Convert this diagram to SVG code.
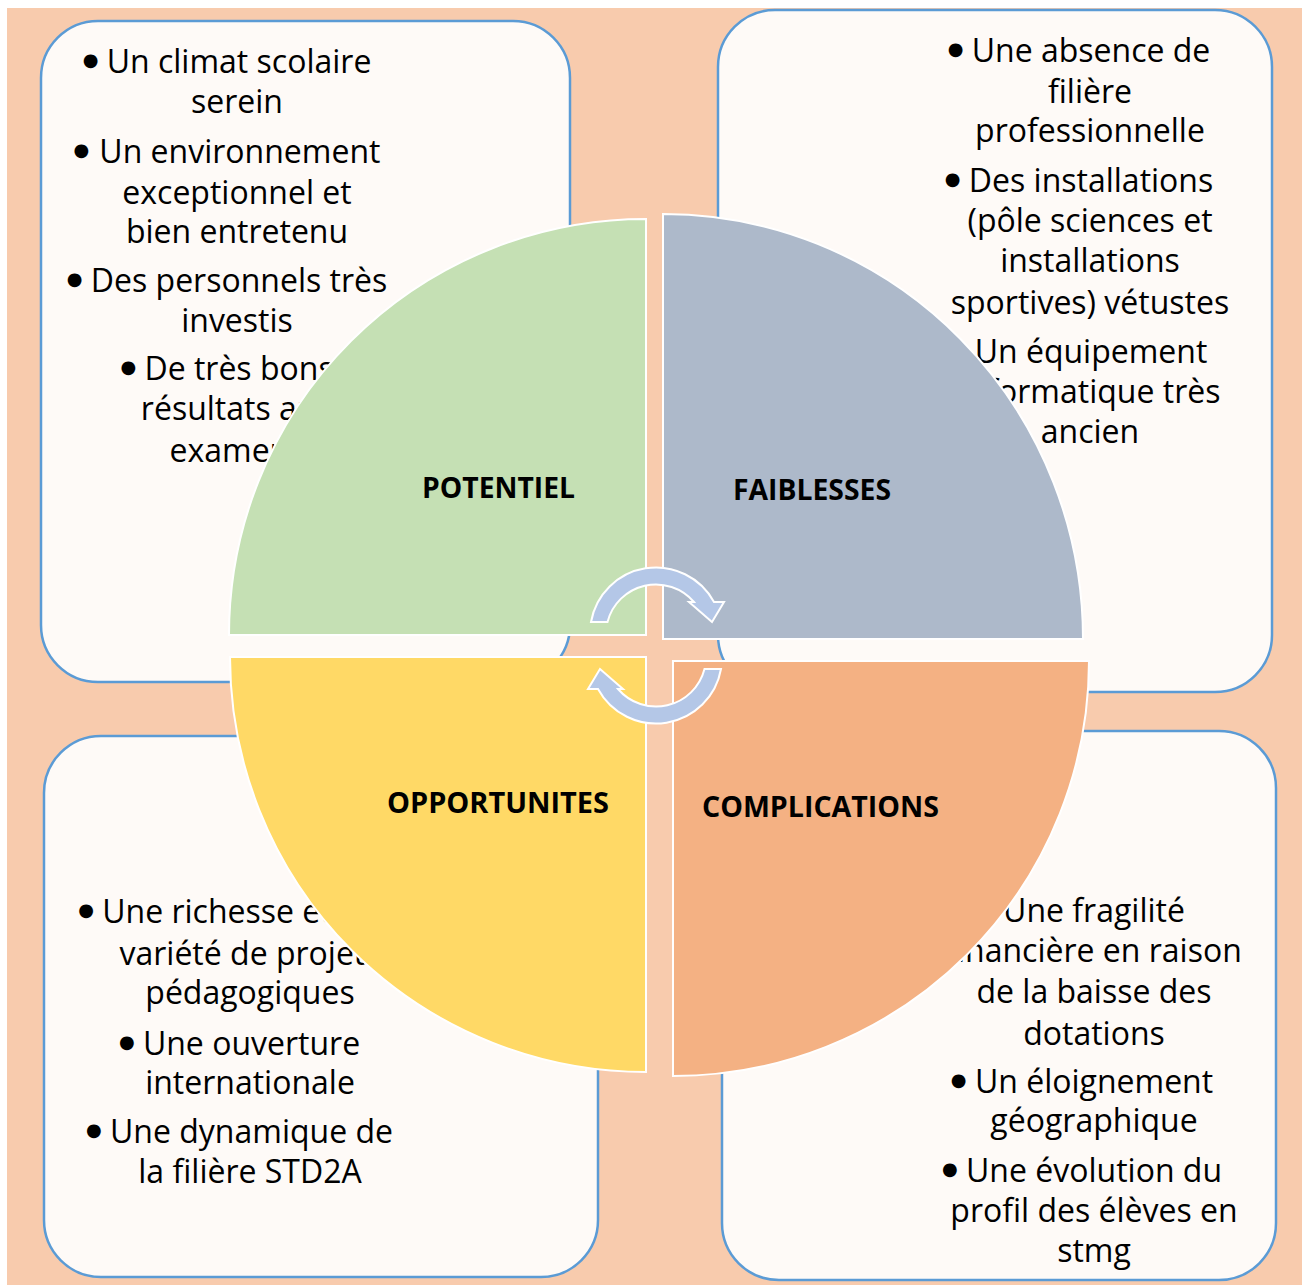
<svg xmlns="http://www.w3.org/2000/svg" width="1309" height="1286" viewBox="0 0 1309 1286">
<style>
.box{fill:#FEFAF7;stroke:#5B9BD5;stroke-width:2.5}
.t{font-family:"Open Sans","Liberation Sans",sans-serif;font-size:32px;fill:#000;text-anchor:middle}
.b{font-family:"DejaVu Sans",sans-serif;font-size:18px}
.q{stroke:#FFFFFF;stroke-width:2}
.lbl{font-family:"Open Sans","Liberation Sans",sans-serif;font-size:29px;font-weight:bold;fill:#000;text-anchor:middle}
.arr{fill:#B4C7E7;stroke:#FFFFFF;stroke-width:2}
</style>
<rect x="7" y="8" width="1295" height="1277" fill="#F8CBAD"/>
<g id="box-potentiel">
<rect class="box" x="41" y="21" width="529" height="661" rx="57"/>
<text class="t" x="227" y="73"><tspan class="b" dy="-7">●</tspan><tspan dy="7"> Un climat scolaire</tspan></text>
<text class="t" x="237" y="113">serein</text>
<text class="t" x="227" y="163"><tspan class="b" dy="-7">●</tspan><tspan dy="7" dx="10">Un environnement</tspan></text>
<text class="t" x="237" y="204">exceptionnel et</text>
<text class="t" x="237" y="243">bien entretenu</text>
<text class="t" x="227" y="292"><tspan class="b" dy="-7">●</tspan><tspan dy="7"> Des personnels très</tspan></text>
<text class="t" x="237" y="332">investis</text>
<text class="t" x="227" y="380"><tspan class="b" dy="-7">●</tspan><tspan dy="7"> De très bons</tspan></text>
<text class="t" x="237" y="420">résultats aux</text>
<text class="t" x="237" y="462">examens</text>
</g>
<g id="box-faiblesses">
<rect class="box" x="718" y="10" width="554" height="682" rx="57"/>
<text class="t" x="1079" y="62"><tspan class="b" dy="-7">●</tspan><tspan dy="7"> Une absence de</tspan></text>
<text class="t" x="1090" y="103">filière</text>
<text class="t" x="1090" y="142">professionnelle</text>
<text class="t" x="1079" y="192"><tspan class="b" dy="-7">●</tspan><tspan dy="7"> Des installations</tspan></text>
<text class="t" x="1090" y="232">(pôle sciences et</text>
<text class="t" x="1090" y="272">installations</text>
<text class="t" x="1090" y="314">sportives) vétustes</text>
<text class="t" x="1079" y="363"><tspan class="b" dy="-7">●</tspan><tspan dy="7"> Un équipement</tspan></text>
<text class="t" x="1090" y="403">informatique très</text>
<text class="t" x="1090" y="443">ancien</text>
</g>
<g id="box-opportunites">
<rect class="box" x="44" y="736" width="554" height="541" rx="57"/>
<text class="t" x="222" y="923"><tspan class="b" dy="-7">●</tspan><tspan dy="7"> Une richesse et la</tspan></text>
<text class="t" x="250" y="965">variété de projets</text>
<text class="t" x="250" y="1004">pédagogiques</text>
<text class="t" x="239.5" y="1055"><tspan class="b" dy="-7">●</tspan><tspan dy="7"> Une ouverture</tspan></text>
<text class="t" x="250" y="1094">internationale</text>
<text class="t" x="239.5" y="1143"><tspan class="b" dy="-7">●</tspan><tspan dy="7"> Une dynamique de</tspan></text>
<text class="t" x="250" y="1183">la filière STD2A</text>
</g>
<g id="box-complications">
<rect class="box" x="722" y="731" width="554" height="549" rx="57"/>
<text class="t" x="1082" y="922"><tspan class="b" dy="-7">●</tspan><tspan dy="7"> Une fragilité</tspan></text>
<text class="t" x="1094" y="962">financière en raison</text>
<text class="t" x="1094" y="1003">de la baisse des</text>
<text class="t" x="1094" y="1045">dotations</text>
<text class="t" x="1082" y="1093"><tspan class="b" dy="-7">●</tspan><tspan dy="7"> Un éloignement</tspan></text>
<text class="t" x="1094" y="1132">géographique</text>
<text class="t" x="1082" y="1182"><tspan class="b" dy="-7">●</tspan><tspan dy="7"> Une évolution du</tspan></text>
<text class="t" x="1094" y="1222">profil des élèves en</text>
<text class="t" x="1094" y="1262">stmg</text>
</g>
<g id="q-potentiel">
<path class="q" fill="#C5E0B4" d="M646,635 L229,635 A417 416 0 0 1 646,219 Z"/>
<text class="lbl" x="498.5" y="498" textLength="153" lengthAdjust="spacingAndGlyphs">POTENTIEL</text>
</g>
<g id="q-faiblesses">
<path class="q" fill="#ADB9CA" d="M663,639 L663,214 A420 425 0 0 1 1083,639 Z"/>
<text class="lbl" x="812" y="499.5" textLength="158" lengthAdjust="spacingAndGlyphs">FAIBLESSES</text>
</g>
<g id="q-opportunites">
<path class="q" fill="#FFD966" d="M646,657 L646,1072 A416 415 0 0 1 230,657 Z"/>
<text class="lbl" x="498" y="812.5" textLength="222" lengthAdjust="spacingAndGlyphs">OPPORTUNITES</text>
</g>
<g id="q-complications">
<path class="q" fill="#F4B183" d="M673,661 L1089,661 A416 415 0 0 1 673,1076 Z"/>
<text class="lbl" x="820.5" y="816.5" textLength="237" lengthAdjust="spacingAndGlyphs">COMPLICATIONS</text>
</g>
<g id="connectors">
<path id="arrow-top" class="arr" d="M591,622 A66 66 0 0 1 714,602 L724,602 L712,622 L689,602 L694,602 A50 50 0 0 0 607.5,622 Z"/>
<path id="arrow-bottom" class="arr" transform="rotate(180 656 645.5)" d="M591,622 A66 66 0 0 1 714,602 L724,602 L712,622 L689,602 L694,602 A50 50 0 0 0 607.5,622 Z"/>
</g>
</svg>
